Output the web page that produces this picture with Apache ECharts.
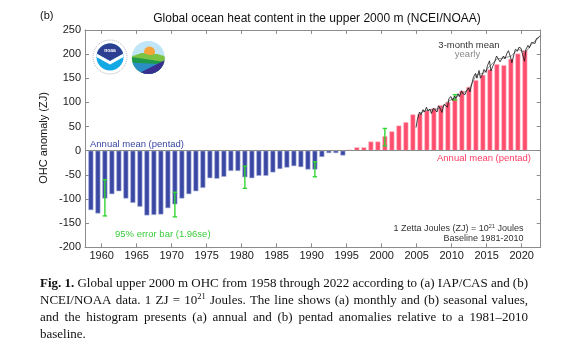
<!DOCTYPE html>
<html><head><meta charset="utf-8">
<script src="https://cdn.jsdelivr.net/npm/echarts@6/dist/echarts.min.js"></script>
<style>html,body{margin:0;padding:0;background:#fff}#c{width:570px;height:360px}</style>
</head><body><div id="c"></div>
<script>
// ---------------- DATA ----------------
const years = [1958,1959,1960,1961,1962,1963,1964,1965,1966,1967,1968,1969,1970,1971,1972,1973,1974,1975,1976,1977,1978,1979,1980,1981,1982,1983,1984,1985,1986,1987,1988,1989,1990,1991,1992,1993,1994,1995,1996,1997,1998,1999,2000,2001,2002,2003,2004,2005,2006,2007,2008,2009,2010,2011,2012,2013,2014,2015,2016,2017,2018,2019,2020];
const pentadValues = [-123,-130,-99,-90,-84,-99,-108,-116,-134,-133,-132,-119,-111,-99,-90,-84,-77,-57,-58,-54,-42,-42,-55,-57,-52,-52,-45,-38,-35,-32,-34,-39,-39,-13,-5,-5,-10,2,7,7,19,19,30,40,52,59,75,76,83,88,94,101,108,124,132,146,157,168,179,177,190,201,208];
const errorYears = [1960,1970,1980,1990,2000,2010];
const errorLow  = [-135,-137,-78,-54,10,105];
const errorHigh = [-60,-86,-32,-23,46,116];
const seasonalTimes = [2004.9,2005.1,2005.4,2005.6,2005.9,2006.1,2006.4,2006.6,2006.9,2007.1,2007.4,2007.6,2007.9,2008.1,2008.4,2008.6,2008.9,2009.1,2009.4,2009.6,2009.9,2010.1,2010.4,2010.6,2010.9,2011.1,2011.4,2011.6,2011.9,2012.1,2012.4,2012.6,2012.9,2013.1,2013.4,2013.6,2013.9,2014.1,2014.4,2014.6,2014.9,2015.1,2015.4,2015.6,2015.9,2016.1,2016.4,2016.6,2016.9,2017.1,2017.4,2017.6,2017.9,2018.1,2018.4,2018.6,2018.9,2019.1,2019.4,2019.6,2019.9,2020.1,2020.4,2020.6,2020.9,2021.1,2021.4,2021.6,2021.9,2022.1,2022.4,2022.6];
const seasonalValues = [48,65,80,74,85,80,90,82,86,77,88,92,80,93,86,79,96,100,90,108,112,104,113,108,118,112,124,118,116,124,130,122,140,152,160,150,166,150,158,168,162,176,186,165,176,182,196,200,184,188,196,190,202,207,194,182,200,210,206,214,212,200,185,210,218,213,224,228,222,232,234,238];
const yearlyTimes  = [2005.5,2006.5,2007.5,2008.5,2009.5,2010.5,2011.5,2012.5,2013.5,2014.5,2015.5,2016.5,2017.5,2018.5,2019.5,2020.5,2021.5,2022.5];
const yearlyValues = [78,84,85,88,102,110,118,128,157,160,176,190,192,196,210,203,222,235];
const xTickLabels = [1960,1965,1970,1975,1980,1985,1990,1995,2000,2005,2010,2015,2020];
const yTickLabels = [-200,-150,-100,-50,0,50,100,150,200,250];

// ---------------- CHART ----------------
const SANS = '"Liberation Sans", Arial, Helvetica, sans-serif';
const SERIF = '"Liberation Serif", "Times New Roman", serif';
const AX = '#8c8c8c';
const BLUE = '#3a48a4', BLUE_EDGE = '#a3abd6';
const PINK = '#ff4d6d', PINK_EDGE = '#ffb6c4';
const chart = echarts.init(document.getElementById('c'), null, {renderer:'canvas', width:570, height:360});

const barData = years.map((y,i)=>{
  const v = pentadValues[i];
  const neg = v < 0;
  return {value:[y+0.45, v], itemStyle:{color: neg?BLUE:PINK, borderColor: neg?BLUE_EDGE:PINK_EDGE, borderWidth:0.6}};
});
const errData = errorYears.map((y,i)=>[y+0.45, errorLow[i], errorHigh[i]]);
const seasonalData = seasonalTimes.map((t,i)=>[t, seasonalValues[i]]);
const yearlyData = yearlyTimes.map((t,i)=>[t, yearlyValues[i]]);

function xAxisDef(pos, labels){
  return {type:'value', min:1957.61, max:2022.71, position:pos,
    axisLine:{show:true,onZero:false,lineStyle:{color:AX,width:1}},
    axisTick:{show:true,inside:true,length:4,customValues:xTickLabels,lineStyle:{color:AX,width:1}},
    axisLabel:{show:labels,customValues:xTickLabels,formatter:v=>String(Math.round(v)),fontSize:11,color:'#1a1a1a',fontFamily:SANS,margin:3},
    splitLine:{show:false}};
}
function yAxisDef(pos, labels){
  return {type:'value', min:-200, max:250, interval:50, position:pos,
    axisLine:{show:true,onZero:false,lineStyle:{color:AX,width:1}},
    axisTick:{show:true,inside:true,length:4,lineStyle:{color:AX,width:1}},
    axisLabel:{show:labels,customValues:yTickLabels,formatter:v=>String(v),fontSize:11,color:'#1a1a1a',fontFamily:SANS,margin:4},
    splitLine:{show:false}};
}

// ---- caption layout (justified) ----
const mctx = document.createElement('canvas').getContext('2d');
const CAP_SIZE = 13, SUP_SIZE = 8.5;
function fontStr(seg){ return (seg.bold?'bold ':'') + (seg.sup?SUP_SIZE:CAP_SIZE) + 'px ' + SERIF; }
function measure(seg){ mctx.font = fontStr(seg); return mctx.measureText(seg.t).width; }
const captionLines = [
  {y:284, just:true, words:[[{t:'Fig.',bold:true}],[{t:'1.',bold:true}],'Global','upper','2000','m','OHC','from','1958','through','2022','according','to','(a)','IAP/CAS','and','(b)']},
  {y:301, just:true, words:['NCEI/NOAA','data.','1','ZJ','=',[{t:'10'},{t:'21',sup:true}],'Joules.','The','line','shows','(a)','monthly','and','(b)','seasonal','values,']},
  {y:318, just:true, words:['and','the','histogram','presents','(a)','annual','and','(b)','pentad','anomalies','relative','to','a','1981–2010']},
  {y:335, just:false, words:['baseline.']}
];
const CAP_L = 40, CAP_R = 528;
const captionGraphics = [];
captionLines.forEach(line=>{
  const words = line.words.map(w=> typeof w === 'string' ? [{t:w}] : w);
  const widths = words.map(w=> w.reduce((s,seg)=>s+measure(seg),0));
  const total = widths.reduce((a,b)=>a+b,0);
  mctx.font = CAP_SIZE+'px '+SERIF;
  const spaceW = mctx.measureText(' ').width;
  const gap = line.just ? (CAP_R-CAP_L-total)/(words.length-1) : spaceW;
  let x = CAP_L;
  words.forEach((w,i)=>{
    let sx = x;
    w.forEach(seg=>{
      captionGraphics.push({type:'text', x:sx, y: seg.sup ? line.y-4 : line.y, silent:true,
        style:{text:seg.t, font:fontStr(seg), fill:'#111', textAlign:'left', textVerticalAlign:'middle'}});
      sx += measure(seg);
    });
    x += widths[i] + gap;
  });
});

// ---- logos (decorative) ----
function regionBelow(cx, cy, r, f){
  const pts=[]; const N=48;
  for(let i=0;i<=N;i++){const dx=-r+2*r*i/N;const h=Math.sqrt(Math.max(0,r*r-dx*dx));pts.push([cx+dx, cy+Math.min(Math.max(f(dx),-h),h)]);}
  for(let i=N;i>=0;i--){const dx=-r+2*r*i/N;const h=Math.sqrt(Math.max(0,r*r-dx*dx));pts.push([cx+dx, cy+h]);}
  return pts;
}
function regionAbove(cx, cy, r, f){
  const pts=[]; const N=48;
  for(let i=0;i<=N;i++){const dx=-r+2*r*i/N;const h=Math.sqrt(Math.max(0,r*r-dx*dx));pts.push([cx+dx, cy+Math.min(Math.max(f(dx),-h),h)]);}
  for(let i=N;i>=0;i--){const dx=-r+2*r*i/N;const h=Math.sqrt(Math.max(0,r*r-dx*dx));pts.push([cx+dx, cy-h]);}
  return pts;
}
function band(cx, cy, r, f1, f2){
  const pts=[]; const N=48;
  for(let i=0;i<=N;i++){const dx=-r+2*r*i/N;const h=Math.sqrt(Math.max(0,r*r-dx*dx));pts.push([cx+dx, cy+Math.min(Math.max(f1(dx),-h),h)]);}
  for(let i=N;i>=0;i--){const dx=-r+2*r*i/N;const h=Math.sqrt(Math.max(0,r*r-dx*dx));pts.push([cx+dx, cy+Math.min(Math.max(f2(dx),-h),h)]);}
  return pts;
}
const n1x=110, n1y=57, n1r=13.5;
const vline = dx => 4 - 7.5*Math.abs(dx)/n1r;
const logoGraphics = [
  {type:'circle', shape:{cx:n1x, cy:n1y, r:17}, style:{fill:'#fff', stroke:'#9aa0a8', lineWidth:0.8, lineDash:[1,1]}, silent:true},
  {type:'circle', shape:{cx:n1x, cy:n1y, r:n1r}, style:{fill:'#12a8e3'}, silent:true},
  {type:'polygon', shape:{points:regionAbove(n1x,n1y,n1r,vline)}, style:{fill:'#2c3f91'}, silent:true},
  {type:'polygon', shape:{points:band(n1x,n1y,n1r,vline,dx=>vline(dx)+3.5)}, style:{fill:'#fff'}, silent:true},
  {type:'text', x:n1x, y:n1y-6, style:{text:'noaa', font:'bold 5px '+SANS, fill:'#fff', textAlign:'center', textVerticalAlign:'middle'}, silent:true},
  {type:'circle', shape:{cx:148.3, cy:57.5, r:16.5}, style:{fill:'#bfe5f6'}, silent:true},
  {type:'circle', shape:{cx:149.5, cy:52, r:5.5}, style:{fill:'#f6a43a'}, silent:true},
  {type:'polygon', shape:{points:regionBelow(148.3,57.5,16.5,dx=>-1.5-3*Math.exp(-Math.pow((dx+6)/6,2))-2*Math.exp(-Math.pow((dx-8)/5,2)))}, style:{fill:'#7cc243'}, silent:true},
  {type:'polygon', shape:{points:regionBelow(148.3,57.5,16.5,dx=>2+0.15*dx)}, style:{fill:'#1f9a4a'}, silent:true},
  {type:'polygon', shape:{points:regionBelow(148.3,57.5,16.5,dx=>6+0.05*dx)}, style:{fill:'#2b8fc6'}, silent:true},
  {type:'polygon', shape:{points:regionBelow(148.3,57.5,16.5,dx=>11-0.5*dx)}, style:{fill:'#3a2f8f'}, silent:true}
];

const textGraphics = [
  {type:'text', x:40, y:16, style:{text:'(b)', font:'11px '+SANS, fill:'#111', textAlign:'left', textVerticalAlign:'middle'}},
  {type:'text', x:317, y:19, style:{text:'Global ocean heat content in the upper 2000 m (NCEI/NOAA)', font:'12px '+SANS, fill:'#111', textAlign:'center', textVerticalAlign:'middle'}},
  {type:'text', x:44, y:138, rotation:Math.PI/2, style:{text:'OHC anomaly (ZJ)', font:'11px '+SANS, fill:'#111', textAlign:'center', textVerticalAlign:'middle'}},
  {type:'text', x:90, y:144, style:{text:'Annual mean (pentad)', font:'9.5px '+SANS, fill:'#3a46a3', textAlign:'left', textVerticalAlign:'middle'}},
  {type:'text', x:531, y:158.5, style:{text:'Annual mean (pentad)', font:'9.5px '+SANS, fill:'#ff3d63', textAlign:'right', textVerticalAlign:'middle'}},
  {type:'text', x:115, y:234, style:{text:'95% error bar (1.96se)', font:'9.5px '+SANS, fill:'#3bcc3b', textAlign:'left', textVerticalAlign:'middle'}},
  {type:'text', x:523.5, y:229, style:{text:'1 Zetta Joules (ZJ) = 10{sup|21} Joules', font:'9px '+SANS, fill:'#333', textAlign:'right', textVerticalAlign:'middle',
     rich:{sup:{fontSize:5.5, fontFamily:SANS, fill:'#333', verticalAlign:'top', lineHeight:11}}}},
  {type:'text', x:523.5, y:238.5, style:{text:'Baseline 1981-2010', font:'9px '+SANS, fill:'#333', textAlign:'right', textVerticalAlign:'middle'}},
  {type:'text', x:469, y:45, style:{text:'3-month mean', font:'9.5px '+SANS, fill:'#333', textAlign:'center', textVerticalAlign:'middle'}},
  {type:'text', x:467.5, y:54.5, style:{text:'yearly', font:'9.5px '+SANS, fill:'#8a8a8a', textAlign:'center', textVerticalAlign:'middle'}}
];

const option = {
  animation:false,
  backgroundColor:'#fff',
  grid:{left:85, right:29.3, top:29.9, bottom:112.7, containLabel:false},
  xAxis:[xAxisDef('bottom',true), xAxisDef('top',false)],
  yAxis:[yAxisDef('left',true), yAxisDef('right',false)],
  series:[
    {type:'bar', xAxisIndex:0, yAxisIndex:0, data:barData, barWidth:5, z:2,
     markLine:{silent:true, symbol:['none','none'], label:{show:false}, lineStyle:{color:AX,width:1,type:'solid'}, data:[{yAxis:0}], z:3}},
    {type:'custom', xAxisIndex:0, yAxisIndex:0, data:errData, z:5,
     renderItem:(params, api)=>{
       const x = api.value(0);
       const lo = api.coord([x, api.value(1)]);
       const hi = api.coord([x, api.value(2)]);
       const st = {stroke:'#33d633', lineWidth:1.4};
       return {type:'group', children:[
         {type:'line', shape:{x1:lo[0],y1:lo[1],x2:hi[0],y2:hi[1]}, style:st},
         {type:'line', shape:{x1:lo[0]-2.2,y1:lo[1],x2:lo[0]+2.2,y2:lo[1]}, style:st},
         {type:'line', shape:{x1:hi[0]-2.2,y1:hi[1],x2:hi[0]+2.2,y2:hi[1]}, style:st}
       ]};
     }},
    {type:'line', data:yearlyData, showSymbol:false, symbol:'none', z:6, lineStyle:{color:'#8a8a8a', width:0.9}},
    {type:'line', data:seasonalData, showSymbol:false, symbol:'none', z:7, lineStyle:{color:'#111', width:0.8}}
  ],
  graphic:{elements:[...logoGraphics, ...textGraphics, ...captionGraphics]}
};
chart.setOption(option);
</script></body></html>
